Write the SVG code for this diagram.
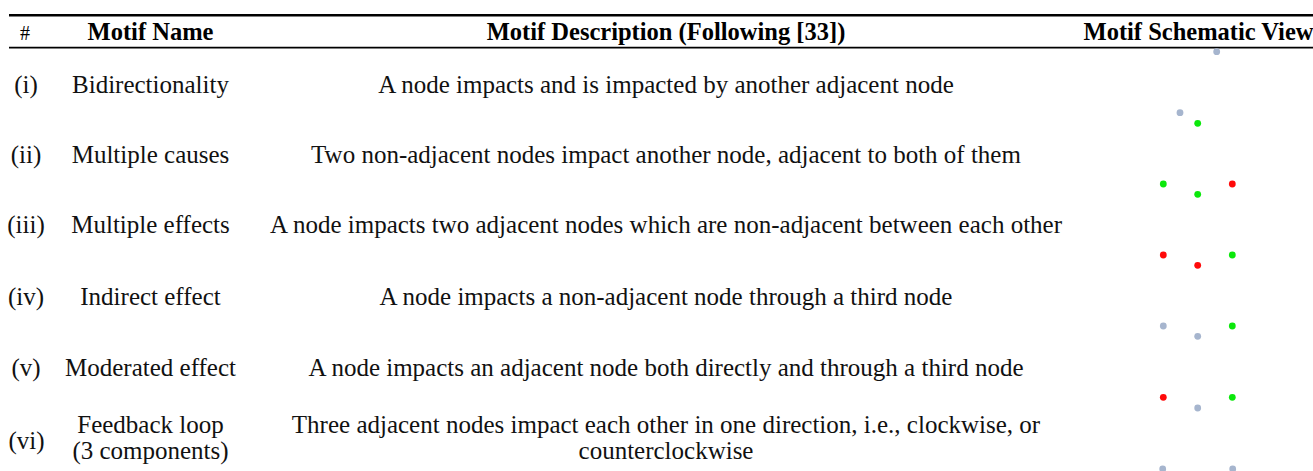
<svg xmlns="http://www.w3.org/2000/svg" width="1313" height="471" viewBox="0 0 1313 471">
<style>
text{font-family:"Liberation Serif","Times New Roman",serif;font-size:25px;fill:#111;text-anchor:middle}
.h{font-weight:bold;fill:#000;font-size:24.5px}
.hash{font-size:20px;fill:#000}
.rule{stroke:#000}
.g{fill:#a6b5ce}
.gr{fill:#0be80b}
.r{fill:#ff0a0a}
</style>
<rect width="1313" height="471" fill="#fff"/>
<g id="rules">
<line class="rule" x1="9" y1="15.3" x2="1313" y2="15.3" stroke-width="2.6"/>
<line class="rule" x1="9" y1="47.7" x2="1313" y2="47.7" stroke-width="1.8"/>
</g>
<g id="header">
<text class="hash" x="25" y="40">#</text>
<text class="h" x="150.5" y="40">Motif Name</text>
<text class="h" x="666" y="40">Motif Description (Following [33])</text>
<text class="h" x="1198.5" y="40">Motif Schematic View</text>
</g>
<g id="row-i">
<text x="26" y="92.7">(i)</text>
<text x="150.5" y="92.7">Bidirectionality</text>
<text x="666" y="92.7">A node impacts and is impacted by another adjacent node</text>
</g>
<g id="row-ii">
<text x="26" y="162.7">(ii)</text>
<text x="150.5" y="162.7">Multiple causes</text>
<text x="666" y="162.7">Two non-adjacent nodes impact another node, adjacent to both of them</text>
</g>
<g id="row-iii">
<text x="26" y="233.3">(iii)</text>
<text x="150.5" y="233.3">Multiple effects</text>
<text x="666" y="233.3">A node impacts two adjacent nodes which are non-adjacent between each other</text>
</g>
<g id="row-iv">
<text x="26" y="305">(iv)</text>
<text x="150.5" y="305">Indirect effect</text>
<text x="666" y="305">A node impacts a non-adjacent node through a third node</text>
</g>
<g id="row-v">
<text x="26" y="376">(v)</text>
<text x="150.5" y="376">Moderated effect</text>
<text x="666" y="376">A node impacts an adjacent node both directly and through a third node</text>
</g>
<g id="row-vi">
<text x="26.5" y="449">(vi)</text>
<text x="150.5" y="432.7">Feedback loop</text>
<text x="150.5" y="459.3">(3 components)</text>
<text x="666" y="432.7">Three adjacent nodes impact each other in one direction, i.e., clockwise, or</text>
<text x="666" y="459.3">counterclockwise</text>
</g>
<g id="schematic-stray"><circle class="g" cx="1216.7" cy="51.7" r="3.4"/></g>
<g id="schematic-i">
<circle class="g" cx="1180" cy="112.7" r="3.4"/>
<circle class="gr" cx="1197.7" cy="123.3" r="3.4"/>
</g>
<g id="schematic-ii">
<circle class="gr" cx="1163.3" cy="184" r="3.4"/>
<circle class="gr" cx="1197.7" cy="194.3" r="3.4"/>
<circle class="r" cx="1232.3" cy="184" r="3.4"/>
</g>
<g id="schematic-iii">
<circle class="r" cx="1163.3" cy="255" r="3.4"/>
<circle class="r" cx="1197.7" cy="265.3" r="3.4"/>
<circle class="gr" cx="1232.3" cy="255" r="3.4"/>
</g>
<g id="schematic-iv">
<circle class="g" cx="1163.3" cy="326" r="3.4"/>
<circle class="g" cx="1197.7" cy="336.3" r="3.4"/>
<circle class="gr" cx="1232.3" cy="326" r="3.4"/>
</g>
<g id="schematic-v">
<circle class="r" cx="1163.3" cy="397.3" r="3.4"/>
<circle class="g" cx="1197.7" cy="408" r="3.4"/>
<circle class="gr" cx="1232.3" cy="397.3" r="3.4"/>
</g>
<g id="schematic-vi">
<circle class="g" cx="1162.7" cy="469" r="3.4"/>
<circle class="g" cx="1232.7" cy="469" r="3.4"/>
</g>
<g id="connectors"></g>
</svg>
